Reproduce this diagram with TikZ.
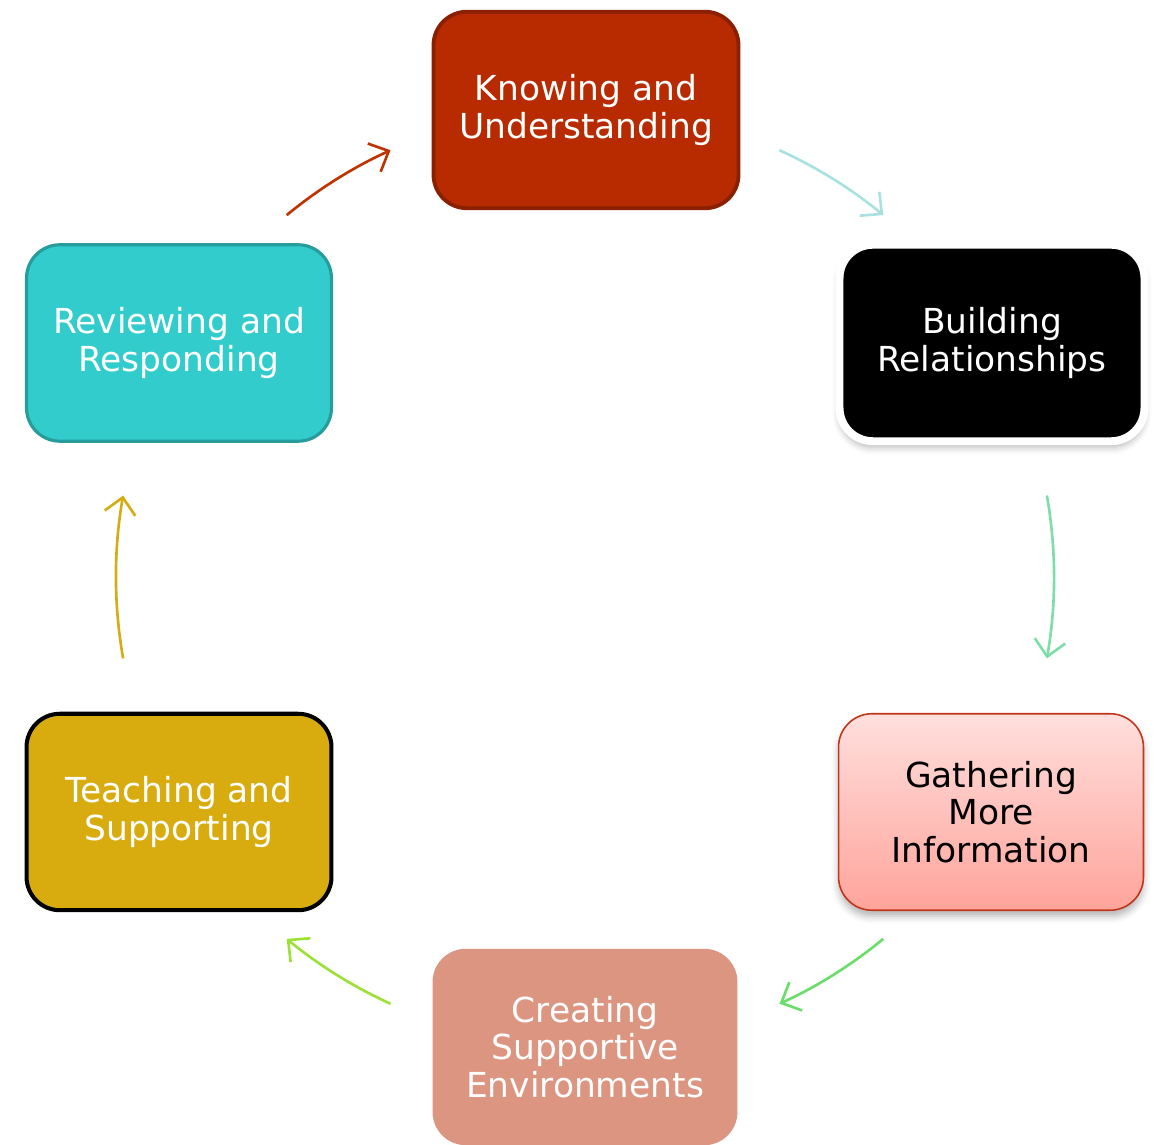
\documentclass[tikz,border=0pt]{standalone}
\usepackage{fontspec}
\setmainfont{DejaVu Sans}
\usetikzlibrary{arrows.meta,shadows.blur}

\definecolor{knowfill}{HTML}{B82B00}
\definecolor{knowline}{HTML}{8A2000}
\definecolor{reviewfill}{HTML}{33CCCC}
\definecolor{reviewline}{HTML}{279C9C}
\definecolor{teachfill}{HTML}{D8AC0F}
\definecolor{createfill}{HTML}{DB9580}
\definecolor{gathertop}{HTML}{FFDFDD}
\definecolor{gatherbot}{HTML}{FFA49B}
\definecolor{gatherline}{HTML}{C0361A}

\tikzset{
  stage/.style={rectangle, rounded corners=19pt, minimum width=6.1cm,
    minimum height=3.93cm, inner sep=0pt, align=center, text=white,
    font=\fontsize{19.6}{21.5}\selectfont},
  soft shadow/.style={blur shadow={shadow xshift=0pt, shadow yshift=-1.2mm,
    shadow blur radius=1.4mm, shadow opacity=30}},
  cycle arrow/.style={line width=1.5pt,
    -{Straight Barb[length=3.2mm,width=6.2mm]}},
}

\begin{document}
\begin{tikzpicture}[x=0.02cm,y=0.02cm]
\useasboundingbox (0,0) rectangle (1166,1145);

% centre of the cycle
\coordinate (c) at (585,568);

% the six stages
\node[stage, fill=knowfill, draw=knowline, line width=2.2pt] (know) at (586,1035) {Knowing and\\Understanding};
\node[stage, fill=black, draw=white, line width=4.5pt, soft shadow] (build) at (992,802) {Building\\Relationships};
\node[stage, top color=gathertop, bottom color=gatherbot, draw=gatherline, line width=0.9pt, text=black, soft shadow] (gather) at (991,333) {Gathering\\More\\Information};
\node[stage, fill=createfill] (create) at (585,98) {Creating\\Supportive\\Environments};
\node[stage, fill=teachfill, draw=black, line width=2.3pt] (teach) at (179,333) {Teaching and\\Supporting};
\node[stage, fill=reviewfill, draw=reviewline, line width=1.8pt] (review) at (179,802) {Reviewing and\\Responding};

% arcs between the stages
\draw[cycle arrow, draw={rgb,255:red,191;green,51;blue,0}] ([shift={(129.5:469)}]c) arc[start angle=129.5, end angle=114.5, radius=469];
\draw[cycle arrow, draw={rgb,255:red,168;green,226;blue,224}] ([shift={(65.5:469)}]c) arc[start angle=65.5, end angle=50.5, radius=469];
\draw[cycle arrow, draw={rgb,255:red,127;green,222;blue,168}] ([shift={(10:469)}]c) arc[start angle=10, end angle=-10, radius=469];
\draw[cycle arrow, draw={rgb,255:red,106;green,221;blue,106}] ([shift={(-50.5:469)}]c) arc[start angle=-50.5, end angle=-65.5, radius=469];
\draw[cycle arrow, draw={rgb,255:red,156;green,226;blue,54}] ([shift={(-114.5:469)}]c) arc[start angle=-114.5, end angle=-129.5, radius=469];
\draw[cycle arrow, draw={rgb,255:red,212;green,172;blue,20}] ([shift={(190:469)}]c) arc[start angle=190, end angle=170, radius=469];

\end{tikzpicture}
\end{document}
